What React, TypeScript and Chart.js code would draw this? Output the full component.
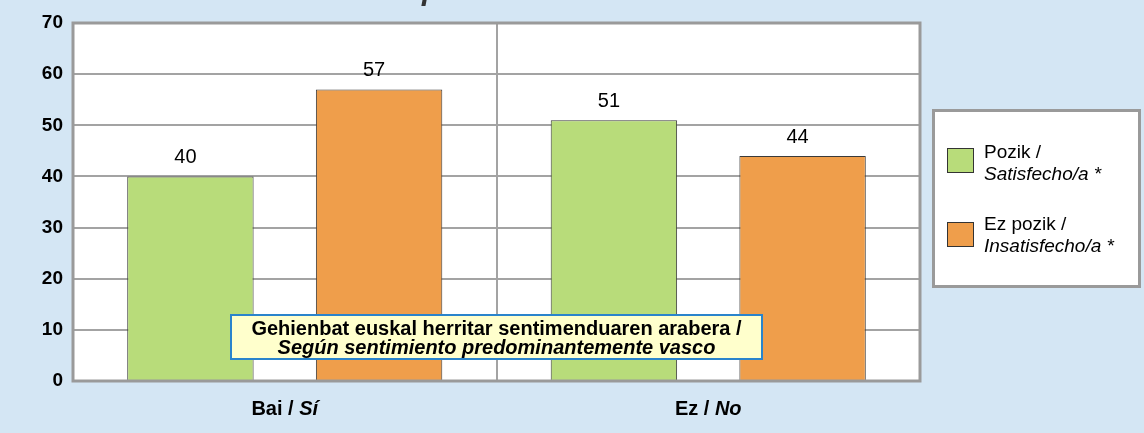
import React, { useEffect, useRef } from "react";
import { Chart, registerables } from "chart.js";

Chart.register(...registerables);

// ---- data ----
const categories = ["Bai / Sí", "Ez / No"];
const categoryMain = ["Bai / ", "Ez / "];
const categoryItalic = ["Sí", "No"];
const satisfiedValues = [40, 51];
const unsatisfiedValues = [57, 44];
const seriesMain = ["Pozik /", "Ez pozik /"];
const seriesItalic = ["Satisfecho/a *", "Insatisfecho/a *"];
const yTickValues = [0, 10, 20, 30, 40, 50, 60, 70];
const noteLines = [
  "Gehienbat euskal herritar sentimenduaren arabera /",
  "Según sentimiento predominantemente vasco",
];
const titleText = "Satisfacción con el respeto a los derechos en el Estado";

// ---- style ----
const FONT = "'Liberation Sans', Arial, Helvetica, sans-serif";
const BG = "#D4E6F4";
const GREEN = "#B8DC7A";
const ORANGE = "#EF9E4B";
const GRID = "#A3A3A3";
const FRAME = "#9A9A9A";
const seriesColors = [GREEN, ORANGE];

const decorPlugin = {
  id: "decor",
  beforeDraw(chart: any) {
    const { ctx, chartArea } = chart;
    ctx.save();
    ctx.fillStyle = BG;
    ctx.fillRect(0, 0, chart.width, chart.height);
    ctx.fillStyle = "#FFFFFF";
    ctx.fillRect(chartArea.left, chartArea.top, chartArea.right - chartArea.left, chartArea.bottom - chartArea.top);
    ctx.restore();
  },
  afterDatasetsDraw(chart: any) {
    const { ctx, chartArea } = chart;
    ctx.save();
    // plot frame
    ctx.strokeStyle = FRAME;
    ctx.lineWidth = 3;
    ctx.strokeRect(chartArea.left, chartArea.top, chartArea.right - chartArea.left, chartArea.bottom - chartArea.top);

    // value labels
    ctx.fillStyle = "#000";
    ctx.font = `20px ${FONT}`;
    ctx.textAlign = "center";
    ctx.textBaseline = "alphabetic";
    chart.data.datasets.forEach((ds: any, i: number) => {
      const meta = chart.getDatasetMeta(i);
      meta.data.forEach((bar: any, j: number) => {
        ctx.fillText(String(ds.data[j]), bar.x - 5, bar.y - 13);
      });
    });
    ctx.restore();
  },
  afterDraw(chart: any) {
    const { ctx } = chart;
    const xScale = chart.scales.x;
    ctx.save();

    // title (cut off at top)
    ctx.textBaseline = "alphabetic";
    ctx.font = `italic bold 20px ${FONT}`;
    const w20 = ctx.measureText(titleText).width;
    const tSize = (20 * 790) / w20;
    ctx.font = `italic bold ${tSize}px ${FONT}`;
    ctx.fillStyle = "#333";
    ctx.textAlign = "left";
    ctx.fillText(titleText, 98, 0);

    // category labels (bold + bold italic)
    ctx.fillStyle = "#000";
    categories.forEach((_, i) => {
      const cx = xScale.getPixelForValue(i);
      ctx.font = `bold 20px ${FONT}`;
      const wa = ctx.measureText(categoryMain[i]).width;
      ctx.font = `italic bold 20px ${FONT}`;
      const wb = ctx.measureText(categoryItalic[i]).width;
      const x0 = cx - (wa + wb) / 2;
      ctx.font = `bold 20px ${FONT}`;
      ctx.fillText(categoryMain[i], x0, 415);
      ctx.font = `italic bold 20px ${FONT}`;
      ctx.fillText(categoryItalic[i], x0 + wa, 415);
    });

    // note box
    const mid = (xScale.getPixelForValue(0) + xScale.getPixelForValue(1)) / 2;
    const bw = 531;
    const bx = mid - bw / 2;
    ctx.fillStyle = "#FFFFCC";
    ctx.fillRect(bx, 315, bw, 44);
    ctx.strokeStyle = "#2A84CC";
    ctx.lineWidth = 2;
    ctx.strokeRect(bx, 315, bw, 44);
    ctx.fillStyle = "#000";
    ctx.textAlign = "center";
    ctx.font = `bold 20px ${FONT}`;
    ctx.fillText(noteLines[0], mid, 335);
    ctx.font = `italic bold 20px ${FONT}`;
    ctx.fillText(noteLines[1], mid, 354);

    // legend box
    ctx.fillStyle = "#FFFFFF";
    ctx.fillRect(933.5, 110.5, 206, 176);
    ctx.strokeStyle = FRAME;
    ctx.lineWidth = 3;
    ctx.strokeRect(933.5, 110.5, 206, 176);
    ctx.textAlign = "left";
    chart.data.datasets.forEach((ds: any, i: number) => {
      const top = 148 + i * 74;
      ctx.fillStyle = ds.backgroundColor;
      ctx.fillRect(947, top, 27, 25);
      ctx.strokeStyle = "#333";
      ctx.lineWidth = 1;
      ctx.strokeRect(947.5, top + 0.5, 26, 24);
      ctx.fillStyle = "#000";
      ctx.font = `19px ${FONT}`;
      ctx.fillText(seriesMain[i], 984, 158 + i * 72);
      ctx.font = `italic 19px ${FONT}`;
      ctx.fillText(seriesItalic[i], 984, 180 + i * 72);
    });

    ctx.restore();
  },
};

export default function App() {
  const canvasRef = useRef<HTMLCanvasElement | null>(null);

  useEffect(() => {
    document.body.style.margin = "0";
    const canvas = canvasRef.current;
    if (!canvas) return;
    const chart = new Chart(canvas, {
      type: "bar",
      data: {
        labels: categories,
        datasets: [
          {
            label: seriesMain[0] + " " + seriesItalic[0],
            data: satisfiedValues,
            backgroundColor: seriesColors[0],
            borderColor: "#3A3A3A",
            borderWidth: 1,
            categoryPercentage: 0.891,
            barPercentage: 0.67,
          },
          {
            label: seriesMain[1] + " " + seriesItalic[1],
            data: unsatisfiedValues,
            backgroundColor: seriesColors[1],
            borderColor: "#3A3A3A",
            borderWidth: 1,
            categoryPercentage: 0.891,
            barPercentage: 0.67,
          },
        ],
      },
      options: {
        responsive: false,
        animation: false,
        devicePixelRatio: 1,
        layout: { padding: { top: 23, right: 224, left: 0, bottom: 0 } },
        plugins: {
          legend: { display: false },
          tooltip: { enabled: false },
          title: { display: false },
        },
        scales: {
          x: {
            offset: true,
            grid: { display: true, color: GRID, lineWidth: 2, drawTicks: false, offset: true },
            border: { display: false },
            ticks: { display: false },
            afterFit: (s: any) => {
              s.height = 52;
            },
          },
          y: {
            min: 0,
            max: 70,
            afterBuildTicks: (s: any) => {
              s.ticks = yTickValues.map((v) => ({ value: v }));
            },
            ticks: {
              color: "#000",
              padding: 10,
              font: { family: FONT, size: 19, weight: "bold" },
            },
            grid: { color: GRID, lineWidth: 2, drawTicks: false },
            border: { display: false },
            afterFit: (s: any) => {
              s.width = 73;
            },
          },
        },
      },
      plugins: [decorPlugin],
    });
    return () => chart.destroy();
  }, []);

  return <canvas ref={canvasRef} width={1144} height={433} style={{ display: "block" }} />;
}
